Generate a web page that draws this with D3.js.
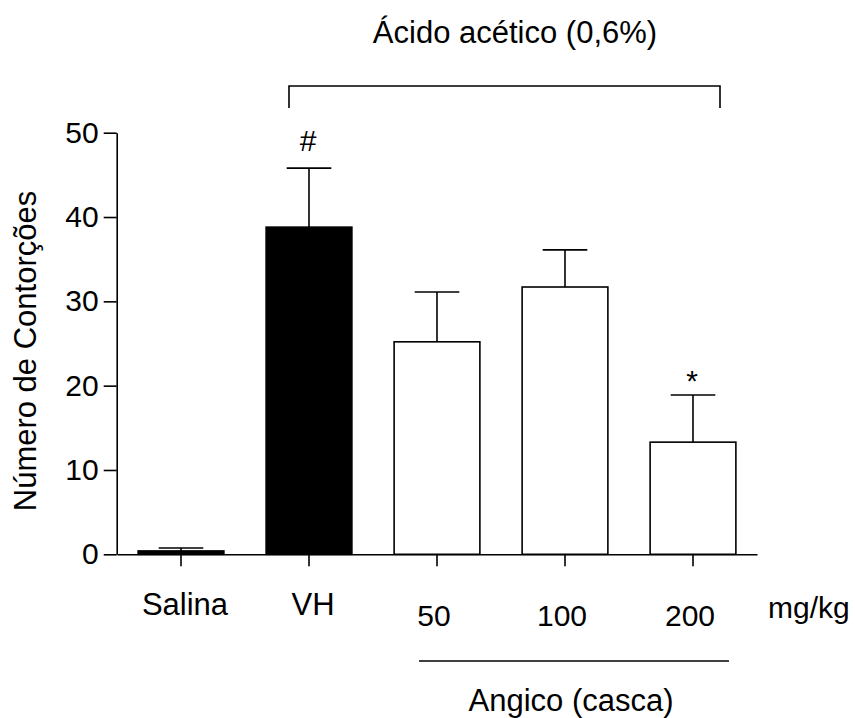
<!DOCTYPE html>
<html>
<head>
<meta charset="utf-8">
<script src="https://cdn.jsdelivr.net/npm/d3@7"></script>
<style>
  body { margin: 0; background: #fff; }
  text { font-family: "Liberation Sans", Arial, Helvetica, sans-serif; fill: #000; }
</style>
</head>
<body>
<div id="chart"></div>
<script>
/*------Data------*/
var groups = ["Salina", "VH", "50", "100", "200"];
var means  = [0.4, 38.8, 25.2, 31.7, 13.3];
var sems   = [0.35, 7.0, 5.9, 4.4, 5.6];
var fills  = ["#000", "#000", "#fff", "#fff", "#fff"];
var marks  = ["", "#", "", "", "*"];
var yTicks = [0, 10, 20, 30, 40, 50];

var width = 855, height = 718;

var svg = d3.select("#chart")
    .append("svg")
    .attr("width", width)
    .attr("height", height);

/*------Scales------*/
var x = d3.scaleBand()
    .domain(groups)
    .range([117, 757])
    .paddingInner(0.33)
    .paddingOuter(0.165);

var y = d3.scaleLinear()
    .domain([0, 50])
    .range([554.3, 132.7]);

var mid = function(g) { return x(g) + x.bandwidth() / 2; };

/*------Bars------*/
var rows = groups.map(function(g, i) {
  return { group: g, mean: means[i], sem: sems[i], fill: fills[i], mark: marks[i] };
});

var errW = x.bandwidth() * 0.52;

// error bars (upper only) drawn first so the bar outline sits on top
svg.selectAll(".err")
    .data(rows)
    .enter()
    .append("line")
      .attr("x1", function(d) { return mid(d.group); })
      .attr("x2", function(d) { return mid(d.group); })
      .attr("y1", function(d) { return y(d.mean); })
      .attr("y2", function(d) { return y(d.mean + d.sem); })
      .attr("stroke", "#000")
      .attr("stroke-width", 1.6);

svg.selectAll(".cap")
    .data(rows)
    .enter()
    .append("line")
      .attr("x1", function(d) { return mid(d.group) - errW / 2; })
      .attr("x2", function(d) { return mid(d.group) + errW / 2; })
      .attr("y1", function(d) { return y(d.mean + d.sem); })
      .attr("y2", function(d) { return y(d.mean + d.sem); })
      .attr("stroke", "#000")
      .attr("stroke-width", 1.6);

svg.selectAll(".bar")
    .data(rows)
    .enter()
    .append("rect")
      .attr("x", function(d) { return x(d.group); })
      .attr("y", function(d) { return y(d.mean); })
      .attr("width", x.bandwidth())
      .attr("height", function(d) { return y(0) - y(d.mean); })
      .attr("fill", function(d) { return d.fill; })
      .attr("stroke", "#000")
      .attr("stroke-width", 1.6);

// significance marks
svg.selectAll(".mark")
    .data(rows.filter(function(d) { return d.mark; }))
    .enter()
    .append("text")
      .attr("x", function(d) { return mid(d.group) - 1; })
      .attr("y", function(d) { return y(d.mean + d.sem) - (d.mark == "*" ? 4 : 17); })
      .attr("text-anchor", "middle")
      .style("font-size", "30px")
      .text(function(d) { return d.mark; });

/*------Axes------*/
var yAxis = svg.append("g")
    .attr("transform", "translate(116.7,0)")
    .call(d3.axisLeft(y).tickValues(yTicks).tickSize(13).tickSizeOuter(0).tickPadding(5));

yAxis.selectAll("text")
    .style("font-size", "30px")
    .style("font-family", "Liberation Sans, Arial, sans-serif");

var xAxis = svg.append("g")
    .attr("transform", "translate(0," + y(0) + ")")
    .call(d3.axisBottom(x).tickSize(12).tickSizeOuter(0));

xAxis.selectAll("text").remove();

svg.selectAll(".domain, .tick line")
    .attr("stroke", "#000")
    .attr("stroke-width", 1.6);

/*------Category labels------*/
svg.selectAll(".xlab")
    .data(groups)
    .enter()
    .append("text")
      .attr("x", function(d, i) { return mid(d) + (i < 2 ? 4 : -3); })
      .attr("y", function(d, i) { return i < 2 ? 615 : 626; })
      .attr("text-anchor", "middle")
      .style("font-size", function(d, i) { return i < 2 ? "31px" : "30px"; })
      .text(function(d) { return d; });

svg.append("text")
    .attr("x", 768)
    .attr("y", 618)
    .style("font-size", "30px")
    .text("mg/kg");

/*------Bracket: Ácido acético------*/
var bx1 = mid("VH") - 20;
var bx2 = mid("200") + 27;

svg.append("path")
    .attr("d", "M" + bx1 + ",108V86H" + bx2 + "V108")
    .attr("fill", "none")
    .attr("stroke", "#000")
    .attr("stroke-width", 1.6);

svg.append("text")
    .attr("x", 515)
    .attr("y", 43)
    .attr("text-anchor", "middle")
    .style("font-size", "31px")
    .text("Ácido acético (0,6%)");

/*------Underline: Angico (casca)------*/
var ux1 = mid("50") - 18;
var ux2 = mid("200") + 36;

svg.append("line")
    .attr("x1", ux1).attr("x2", ux2)
    .attr("y1", 661).attr("y2", 661)
    .attr("stroke", "#000")
    .attr("stroke-width", 1.6);

svg.append("text")
    .attr("x", 571)
    .attr("y", 711)
    .attr("text-anchor", "middle")
    .style("font-size", "31px")
    .text("Angico (casca)");

/*------Y title------*/
svg.append("text")
    .attr("transform", "translate(36,351) rotate(-90)")
    .attr("text-anchor", "middle")
    .style("font-size", "31px")
    .text("Número de Contorções");
</script>
</body>
</html>
